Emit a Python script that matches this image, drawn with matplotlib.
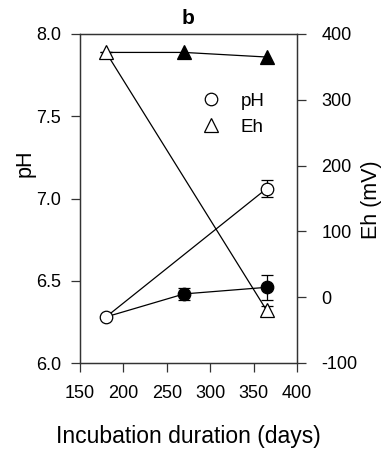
import numpy as np
import matplotlib
matplotlib.use("Agg")
import matplotlib.pyplot as plt
from matplotlib.lines import Line2D

plt.rcParams['font.family'] = ['Liberation Sans', 'DejaVu Sans']
plt.rcParams['axes.unicode_minus'] = False

# data
ph_open_x = [180, 365]
ph_open = [6.28, 7.06]
ph_open_err = [0.0, 0.05]
ph_fill_x = [270, 365]
ph_fill = [6.42, 6.46]
ph_fill_err = [0.035, 0.075]
eh_open_x = [180, 365]
eh_open = [372, -20]
eh_open_err = [0, 7]
eh_fill_x = [270, 365]
eh_fill = [372, 365]

fig = plt.figure(figsize=(3.87, 4.54), dpi=100)
ax = fig.add_axes([80/387, 1-363/454, 217/387, 329/454])
ax2 = ax.twinx()

lw = 0.9
ms = 9      # circles
mt = 10.5   # triangles
# connecting lines
ax.plot(ph_open_x, ph_open, color='black', lw=lw, zorder=1)
ax.plot([ph_open_x[0]] + ph_fill_x, [ph_open[0]] + ph_fill, color='black', lw=lw, zorder=1)
ax2.plot(eh_open_x, eh_open, color='black', lw=lw, zorder=1)
ax2.plot([eh_open_x[0]] + eh_fill_x, [eh_open[0]] + eh_fill, color='black', lw=lw, zorder=1)

# markers with error bars
ax.errorbar(ph_open_x, ph_open, yerr=ph_open_err, fmt='o', ms=ms, mfc='white', mec='black',
            mew=lw, ecolor='black', elinewidth=lw, capsize=4, capthick=lw, zorder=3)
ax.errorbar(ph_fill_x, ph_fill, yerr=ph_fill_err, fmt='o', ms=ms, mfc='black', mec='black',
            mew=lw, ecolor='black', elinewidth=lw, capsize=4, capthick=lw, zorder=3)
ax2.errorbar(eh_open_x, eh_open, yerr=eh_open_err, fmt='^', ms=mt, mfc='white', mec='black',
             mew=lw, ecolor='black', elinewidth=lw, capsize=4, capthick=lw, zorder=3)
ax2.plot(eh_fill_x, eh_fill, '^', ms=mt, mfc='black', mec='black', mew=lw, zorder=3)

ax.set_xlim(150, 400)
ax.set_ylim(6.0, 8.0)
ax2.set_ylim(-100, 400)
ax.set_xticks([150, 200, 250, 300, 350, 400])
ax.set_yticks([6.0, 6.5, 7.0, 7.5, 8.0])
ax.set_yticklabels(['6.0', '6.5', '7.0', '7.5', '8.0'])
ax2.set_yticks([-100, 0, 100, 200, 300, 400])

for a in (ax, ax2):
    for s in a.spines.values():
        s.set_linewidth(0.9)
        s.set_color('#333333')
    a.tick_params(direction='out', length=6.5, width=0.9, color='#333333', labelsize=13)
ax.tick_params(axis='y', pad=7)
ax.tick_params(axis='x', pad=9)
ax2.tick_params(axis='y', pad=11)

ax.set_xlabel('Incubation duration (days)', fontsize=16.5, labelpad=17)
ax.set_ylabel('pH', fontsize=15.5, va='center')
ax2.set_ylabel('Eh (mV)', fontsize=15.5, va='center')
ax.yaxis.set_label_coords((25 - 80) / 217, (363 - 163) / 329)
ax2.yaxis.set_label_coords((372 - 80) / 217, (363 - 200) / 329)
fig.text(0.5 * (80 + 297) / 387, 1 - 18/454, 'b', fontsize=15, fontweight='bold', ha='center', va='center')

handles = [Line2D([], [], ls='none', marker='o', ms=ms, mfc='white', mec='black', mew=lw),
           Line2D([], [], ls='none', marker='^', ms=mt, mfc='white', mec='black', mew=lw)]
ax2.legend(handles, ['pH', 'Eh'], frameon=False, fontsize=13.5, loc='upper left',
           bbox_to_anchor=(190/387, 1 - 83/454), bbox_transform=fig.transFigure,
           handletextpad=1.0, labelspacing=0.5, handlelength=1.2, borderpad=0)

fig.savefig('out.png', dpi=100)
